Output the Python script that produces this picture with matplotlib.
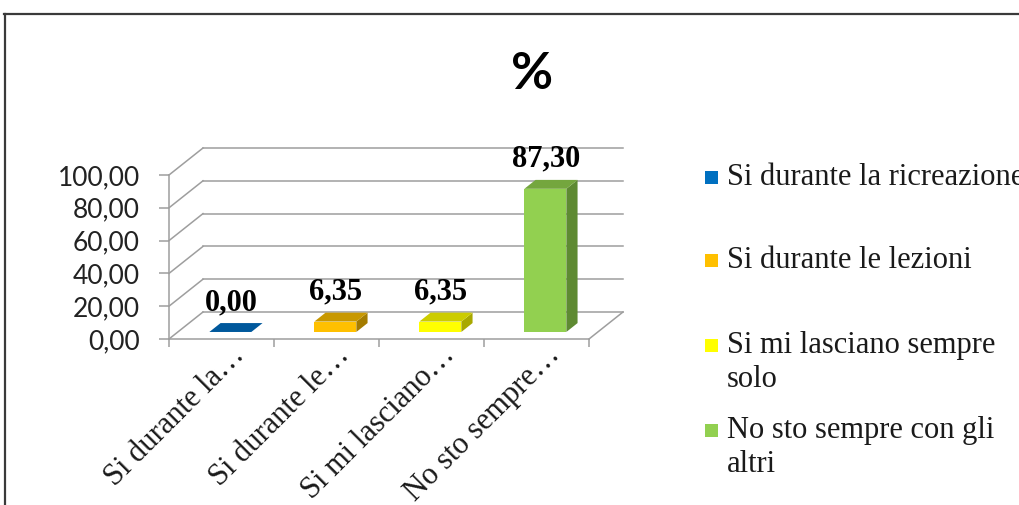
import numpy as np
import matplotlib.pyplot as plt
from matplotlib.lines import Line2D
from matplotlib.patches import Rectangle
from matplotlib.transforms import ScaledTranslation

# dati del grafico
categorie = ["Si durante la ricreazione", "Si durante le lezioni",
             "Si mi lasciano sempre\nsolo", "No sto sempre con gli\naltri"]
etichette_asse = ["Si durante la…", "Si durante le…", "Si mi lasciano…", "No sto sempre…"]
valori = [0.00, 6.35, 6.35, 87.30]
tick_y = [0, 20, 40, 60, 80, 100]

# colori delle barre (fronte, sopra, lato)
colori_fronte = ['#0070C0', '#FFC000', '#FFFF00', '#92D050']
colori_sopra = ['#00589C', '#C89800', '#CCCC00', '#74A63E']
colori_lato = ['#004C86', '#A47C00', '#A8A800', '#5E8A32']
grigio = '#9E9E9E'
serif = 'Liberation Serif'
sans = 'Lato'

W, H = 1019, 505
fig = plt.figure(figsize=(W / 100, H / 100), dpi=100)


def fx(x):
    return x / W


def fy(y):
    return 1 - y / H


# asse principale: x = categorie, y = percentuale
ax = fig.add_axes([fx(169), fy(339), 420 / W, 164 / H])
n = len(valori)
ax.set_xlim(0, n)
ax.set_ylim(0, 100)

# profondita' prospettica (in unita' dati)
DX = 34 / 105
DY = 27 / 1.64
F, B = 0.26, 0.59   # posizione fronte/retro barra nella profondita'
larg = 0.40

# pareti e griglia
for v in tick_y:
    ax.plot([DX, n + DX], [v + DY, v + DY], color=grigio, lw=1.1, clip_on=False, zorder=1)
    ax.plot([0, DX], [v, v + DY], color=grigio, lw=1.1, clip_on=False, zorder=1)
ax.plot([n, n + DX], [0, DY], color=grigio, lw=1.1, clip_on=False, zorder=1)

# barre 3D
for i, v in enumerate(valori):
    x0 = i + 0.5 - larg / 2
    x1 = i + 0.5 + larg / 2
    fdx, fdy = F * DX, F * DY
    bdx, bdy = B * DX, B * DY
    ax.fill([x0 + fdx, x1 + fdx, x1 + fdx, x0 + fdx], [fdy, fdy, v + fdy, v + fdy],
            color=colori_fronte[i], lw=0, clip_on=False, zorder=3)
    ax.fill([x1 + fdx, x1 + bdx, x1 + bdx, x1 + fdx], [fdy, bdy, v + bdy, v + fdy],
            color=colori_lato[i], lw=0, clip_on=False, zorder=3)
    ax.fill([x0 + fdx, x1 + fdx, x1 + bdx, x0 + bdx], [v + fdy, v + fdy, v + bdy, v + bdy],
            color=colori_sopra[i], lw=0, clip_on=False, zorder=3)
    ax.text(i + 0.59, v + bdy + 12.5, f"{v:.2f}".replace('.', ','), ha='center', va='center',
            fontfamily=serif, fontweight='bold', fontsize=22, color='#000000', clip_on=False)

# assi
for s in ['top', 'right']:
    ax.spines[s].set_visible(False)
for s in ['left', 'bottom']:
    ax.spines[s].set_color(grigio)
    ax.spines[s].set_linewidth(1.1)
ax.patch.set_alpha(0)

ax.set_yticks(tick_y, labels=[f"{v:.2f}".replace('.', ',') for v in tick_y])
ax.tick_params(axis='y', length=7.2, width=1.1, color=grigio, pad=13.7,
               labelsize=19, labelcolor='#222222')
for lab in ax.get_yticklabels():
    lab.set_fontfamily(sans)

ax.set_xticks(np.arange(n) + 0.5, labels=etichette_asse, rotation=45, ha='right',
              va='center', rotation_mode='anchor', fontfamily=serif, fontsize=22, color='#1a1a1a')
ax.set_xticks(np.arange(n + 1), minor=True)
ax.tick_params(axis='x', which='major', length=0, pad=8.6)
ax.tick_params(axis='x', which='minor', length=5.8, width=1.1, color=grigio)
sposta = ScaledTranslation(19 / 100, 0, fig.dpi_scale_trans)
for lab in ax.get_xticklabels():
    lab.set_transform(lab.get_transform() + sposta)

# titolo
fig.text(fx(532), fy(89), "%", ha='center', va='baseline', fontfamily=sans,
         fontweight='bold', fontsize=37, color='#000000')

# legenda
leg_y = [177, 260, 345, 430]
for i, lab in enumerate(categorie):
    cy = leg_y[i]
    fig.add_artist(Rectangle((fx(705), fy(cy + 6.5)), 13 / W, 13 / H,
                             transform=fig.transFigure, facecolor=colori_fronte[i], lw=0))
    for k, riga in enumerate(lab.split('\n')):
        fig.text(fx(727), fy(cy + 8 + 34 * k), riga, ha='left', va='baseline',
                 fontfamily=serif, fontsize=22, color='#1a1a1a')

# cornice
fig.add_artist(Line2D([fx(4), 1], [fy(14), fy(14)], transform=fig.transFigure,
                      color='#3a3a3a', lw=1.6))
fig.add_artist(Line2D([fx(5), fx(5)], [fy(14), 0], transform=fig.transFigure,
                      color='#3a3a3a', lw=1.6))

fig.savefig('out.png', dpi=100)
